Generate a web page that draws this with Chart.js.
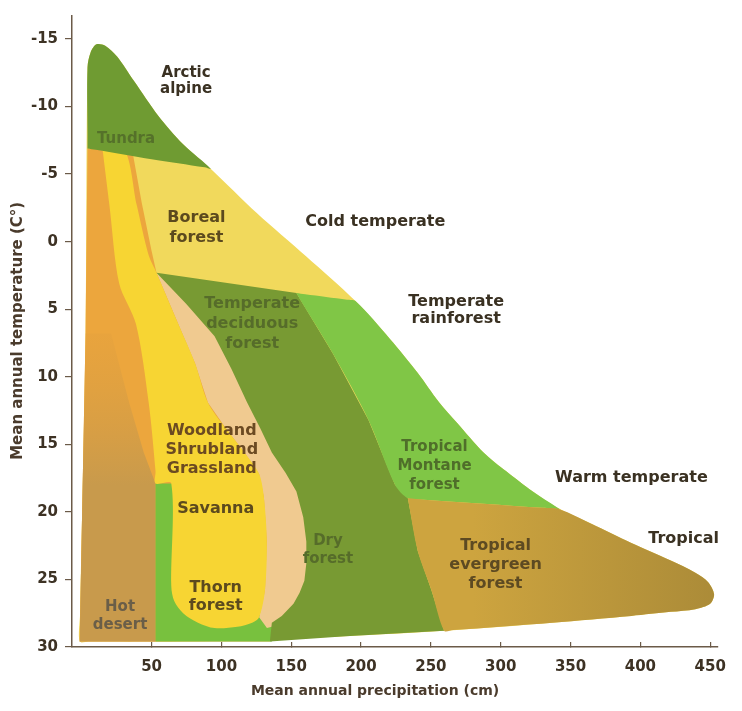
<!DOCTYPE html>
<html>
<head>
<meta charset="UTF-8">
<title>Biome diagram</title>
<script src="https://cdn.jsdelivr.net/npm/chart.js"></script>
<style>
  body { margin: 0; background: #fff; }
  #wrap { width: 742px; height: 711px; }
</style>
</head>
<body>
<div id="wrap"><canvas id="biomes"></canvas></div>
<script>
// outlines: [precipitation (cm), temperature (C)]
const outline = [[5.0,29.6],[-1.5,29.6],[-1.2,27.5],[2.7,6.8],[4.1,-12.9],[6.3,-14.0],[10.5,-14.6],[16.8,-14.5],[25.3,-13.7],[37.3,-11.9],[54.9,-9.3],[72.6,-7.2],[92.3,-5.4],[125.5,-2.1],[160.8,1.1],[196.0,4.4],[220.7,7.2],[240.5,9.7],[256.0,11.9],[268.7,13.4],[287.7,15.6],[304.0,17.0],[323.0,18.5],[340.7,19.7],[365.3,20.9],[393.6,22.3],[421.8,23.6],[439.4,24.5],[448.6,25.2],[452.8,26.1],[450.0,26.8],[439.4,27.2],[421.8,27.4],[393.6,27.7],[337.1,28.2],[259.5,28.8],[189.0,29.2],[118.4,29.5],[47.9,29.6]];
const tundra = [[4.1,-6.9],[4.1,-8.0],[4.1,-12.9],[6.3,-14.0],[10.5,-14.6],[16.8,-14.5],[25.3,-13.7],[37.3,-11.9],[54.9,-9.3],[72.6,-7.2],[92.3,-5.4],[88.0,-5.5],[50.0,-6.1],[10.0,-6.8]];
const woodlandOrange = [[4.1,-6.9],[35.9,-6.9],[42.9,-2.9],[50.0,0.7],[53.5,2.3],[153.7,20.7],[134.7,29.6],[-1.5,29.6],[2.7,6.8]];
const hotDesert = [[2.7,6.8],[21.0,6.8],[33.9,11.9],[44.4,15.6],[52.8,17.9],[52.8,29.6],[-1.5,29.6]];
const thornForest = [[52.8,17.9],[65.5,17.9],[69.1,23.6],[136.2,27.3],[136.2,29.6],[52.8,29.6]];
const pinkBand = [[53.5,2.3],[98.6,7.0],[122.6,11.9],[140.2,15.6],[157.9,18.5],[164.9,22.2],[162.9,25.1],[153.7,27.0],[139.6,28.4],[132.6,28.6],[127.0,27.8],[131.2,25.8],[132.5,22.2],[130.4,18.9],[127.0,17.2],[117.1,15.7],[103.0,13.8],[90.3,11.9],[81.1,9.0],[69.1,6.1]];
const woodlandYellow = [[14.8,-6.9],[30.3,-6.9],[39.4,-2.7],[47.9,1.0],[53.5,2.3],[69.1,6.1],[81.1,9.0],[90.3,11.9],[103.0,13.8],[117.1,15.7],[127.0,17.2],[130.4,18.9],[132.5,22.2],[131.2,25.8],[127.0,27.8],[122.0,28.2],[111.4,28.5],[95.1,28.6],[83.2,28.2],[72.6,27.5],[66.2,26.6],[64.1,25.5],[64.1,17.9],[52.8,17.9],[52.8,17.0],[47.9,11.9],[38.8,6.1],[26.8,3.1],[19.8,-2.7]];
const deciduous = [[53.5,2.3],[153.7,3.8],[179.9,8.3],[205.3,13.2],[224.3,18.0],[233.5,19.0],[240.6,22.9],[250.4,25.8],[259.5,28.8],[189.0,29.2],[134.7,29.6],[136.1,28.2],[143.2,27.7],[151.6,26.8],[155.9,26.0],[159.4,25.1],[160.8,23.8],[160.8,22.2],[158.6,20.4],[153.7,18.5],[145.9,17.1],[136.1,15.6],[127.7,13.8],[118.4,11.9],[107.1,9.4],[95.1,7.0],[74.7,4.6]];
const rainforest = [[153.7,3.8],[160.0,3.9],[175.0,4.1],[190.0,4.3],[196.0,4.4],[220.7,7.2],[240.5,9.7],[256.0,11.9],[268.7,13.4],[287.7,15.6],[304.0,17.0],[323.0,18.5],[340.7,19.7],[342.1,19.8],[330.0,19.7],[245.0,19.1],[233.5,19.0],[224.3,18.0],[205.3,13.2],[179.9,8.3],[157.0,4.4]];
const evergreen = [[233.5,19.0],[245.0,19.1],[330.0,19.7],[342.1,19.8],[365.3,20.9],[393.6,22.3],[421.8,23.6],[439.4,24.5],[448.6,25.2],[452.8,26.1],[450.0,26.8],[439.4,27.2],[421.8,27.4],[393.6,27.7],[337.1,28.2],[266.0,28.75],[259.5,28.8],[250.4,25.8],[240.6,22.9]];

const xTicks = [50, 100, 150, 200, 250, 300, 350, 400, 450];
const yTicks = [-15, -10, -5, 0, 5, 10, 15, 20, 25, 30];

const labelText = ['Arctic\nalpine', 'Tundra', 'Boreal\nforest', 'Cold temperate', 'Temperate\nrainforest',
  'Temperate\ndeciduous\nforest', 'Woodland\nShrubland\nGrassland', 'Savanna', 'Thorn\nforest', 'Hot\ndesert',
  'Dry\nforest', 'Tropical\nMontane\nforest', 'Warm temperate', 'Tropical\nevergreen\nforest', 'Tropical'];
const labelAt = [[74.7,-11.9],[31.7,-7.6],[82.1,-1.0],[210.2,-1.5],[268.1,5.1],
  [122.0,6.1],[93.1,15.4],[95.9,19.8],[95.9,26.3],[27.4,27.7],
  [176.3,22.8],[252.6,16.6],[393.6,17.5],[296.3,23.9],[431.0,22.0]];

const pts = a => a.concat([a[0]]).map(p => ({x: p[0], y: p[1]}));

const FONT = '"DejaVu Sans", Verdana, sans-serif';
const outerStyle = {font: 'bold 16px ' + FONT, color: '#3a3122', lh: 16};
const labelStyle = [
  {font: 'bold 15px ' + FONT, color: '#3a3122', lh: 16},
  {font: 'bold 15px ' + FONT, color: '#55712a', lh: 18},
  {font: 'bold 16px ' + FONT, color: '#5c4a1e', lh: 20},
  outerStyle,
  {font: 'bold 16px ' + FONT, color: '#3a3122', lh: 17},
  {font: 'bold 16px ' + FONT, color: '#566c2a', lh: 20},
  {font: 'bold 16px ' + FONT, color: '#6b4a22', lh: 19},
  {font: 'bold 16px ' + FONT, color: '#5c4a1e', lh: 19},
  {font: 'bold 16px ' + FONT, color: '#5c4a1e', lh: 18},
  {font: 'bold 15px ' + FONT, color: '#6a5e48', lh: 18},
  {font: 'bold 15px ' + FONT, color: '#566c2a', lh: 18},
  {font: 'bold 15px ' + FONT, color: '#4f6e2a', lh: 19},
  outerStyle,
  {font: 'bold 16px ' + FONT, color: '#5d4a22', lh: 19},
  outerStyle
];

function desertFill(ctx) {
  const chart = ctx.chart;
  if (!chart.chartArea) return '#c99a4c';
  const y = chart.scales.y;
  const g = chart.ctx.createLinearGradient(0, y.getPixelForValue(7), 0, y.getPixelForValue(18));
  g.addColorStop(0, 'rgba(226,160,62,0.4)');
  g.addColorStop(1, '#c89a4c');
  return g;
}
function evergreenFill(ctx) {
  const chart = ctx.chart;
  if (!chart.chartArea) return '#c9a23e';
  const x = chart.scales.x;
  const g = chart.ctx.createLinearGradient(x.getPixelForValue(280), 0, x.getPixelForValue(455), 0);
  g.addColorStop(0, '#cda43f');
  g.addColorStop(1, '#ab8b38');
  return g;
}

// bottom layer first: [points, colour, smoothing]
const layers = [
  [outline, '#f1d95c', 0.3],
  [woodlandOrange, '#eca63d', 0],
  [hotDesert, desertFill, 0],
  [thornForest, '#78c13e', 0],
  [pinkBand, '#f0ca90', 0],
  [woodlandYellow, '#f7d533', 0.3],
  [deciduous, '#789a33', 0],
  [rainforest, '#80c646', 0.3],
  [evergreen, evergreenFill, 0.3],
  [tundra, '#6f9b32', 0.3]
];

const datasets = layers.map((l, i) => ({
  data: pts(l[0]),
  showLine: true,
  fill: 'shape',
  backgroundColor: l[1],
  borderWidth: 0,
  pointRadius: 0,
  tension: l[2],
  order: layers.length - i
}));

const labelPlugin = {
  id: 'biomeLabels',
  afterDatasetsDraw(chart) {
    const {ctx, scales: {x, y}} = chart;
    ctx.save();
    ctx.textAlign = 'center';
    ctx.textBaseline = 'middle';
    labelText.forEach((t, i) => {
      const st = labelStyle[i];
      const lines = t.split('\n');
      const px = x.getPixelForValue(labelAt[i][0]);
      const py = y.getPixelForValue(labelAt[i][1]);
      ctx.font = st.font;
      ctx.fillStyle = st.color;
      lines.forEach((ln, k) => {
        ctx.fillText(ln, px, py + (k - (lines.length - 1) / 2) * st.lh);
      });
    });
    // axis titles
    ctx.fillStyle = '#4a3b2c';
    ctx.font = 'bold 14px ' + FONT;
    ctx.fillText('Mean annual precipitation (cm)', x.getPixelForValue(210), 691);
    ctx.translate(18, y.getPixelForValue(6.6));
    ctx.rotate(-Math.PI / 2);
    ctx.font = 'bold 15px ' + FONT;
    ctx.fillText('Mean annual temperature (C°)', 0, 0);
    ctx.restore();
  }
};

const axisColor = '#6b5a48';
new Chart(document.getElementById('biomes'), {
  type: 'scatter',
  data: {datasets},
  options: {
    responsive: true,
    maintainAspectRatio: false,
    animation: false,
    layout: {padding: {top: 8, right: 15, left: 0, bottom: 0}},
    plugins: {legend: {display: false}, tooltip: {enabled: false}},
    scales: {
      x: {
        type: 'linear', min: -7, max: 455,
        afterBuildTicks: s => { s.ticks = xTicks.map(v => ({value: v})); },
        afterFit: s => { s.height = 64; },
        grid: {drawOnChartArea: false, tickLength: -5, color: axisColor, lineWidth: 1.2},
        border: {color: axisColor, width: 1.5},
        ticks: {padding: 16, color: '#3d3224', font: {family: FONT, size: 15, weight: 'bold'}, maxRotation: 0}
      },
      y: {
        type: 'linear', min: -16.7, max: 30, reverse: true,
        afterBuildTicks: s => { s.ticks = yTicks.map(v => ({value: v})); },
        afterFit: s => { s.width = 72; },
        grid: {drawOnChartArea: false, tickLength: 7, color: axisColor, lineWidth: 1.2},
        border: {color: axisColor, width: 1.5},
        ticks: {padding: 7, color: '#3d3224', font: {family: FONT, size: 15, weight: 'bold'}}
      }
    }
  },
  plugins: [labelPlugin]
});
</script>
</body>
</html>
